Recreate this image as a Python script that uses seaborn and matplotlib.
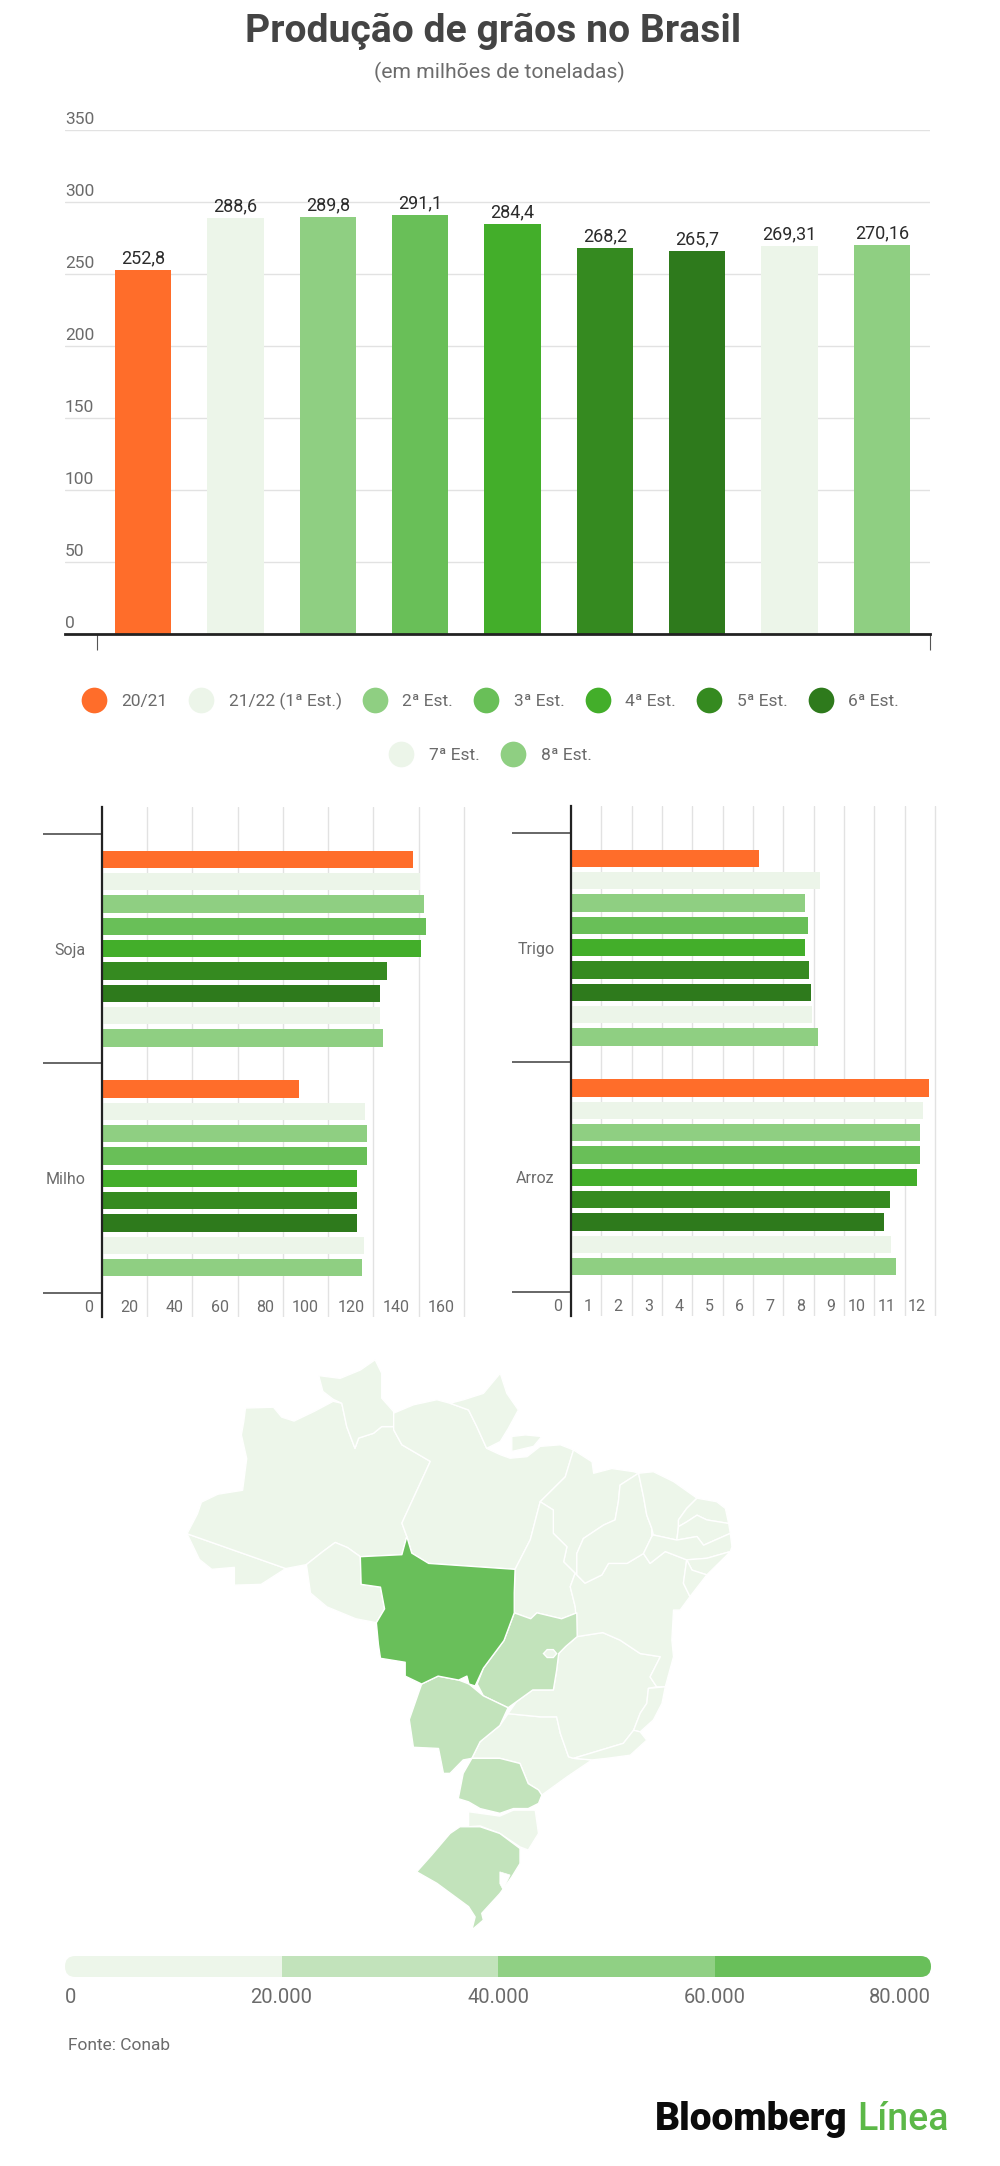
import matplotlib
matplotlib.use('Agg')
import matplotlib.pyplot as plt
import matplotlib.transforms as mtrans
from matplotlib.lines import Line2D
from matplotlib.patches import FancyBboxPatch
import pandas as pd
import seaborn as sns

W, H = 1000, 2166

estimates = ['20/21', '21/22 (1ª Est.)', '2ª Est.', '3ª Est.', '4ª Est.',
             '5ª Est.', '6ª Est.', '7ª Est.', '8ª Est.']
colors = ['#ff6d2a', '#ecf5e9', '#8fcf82', '#69bf58', '#43ae2a',
          '#358a20', '#2e7a1c', '#ecf5e9', '#8fcf82']

total = [252.8, 288.6, 289.8, 291.1, 284.4, 268.2, 265.7, 269.31, 270.16]
total_labels = ['252,8', '288,6', '289,8', '291,1', '284,4', '268,2', '265,7', '269,31', '270,16']

soja = [137.4, 140.8, 142.2, 143.1, 141.1, 125.9, 123.0, 123.0, 124.4]
milho = [87.2, 116.5, 117.1, 117.1, 112.9, 112.9, 112.9, 115.7, 115.1]
trigo = [6.2, 8.2, 7.7, 7.8, 7.7, 7.85, 7.9, 7.95, 8.15]
arroz = [11.8, 11.6, 11.5, 11.5, 11.4, 10.5, 10.3, 10.55, 10.7]

scale_steps = [0, 20000, 40000, 60000, 80000]
scale_labels = ['0', '20.000', '40.000', '60.000', '80.000']
scale_colors = ['#edf6ea', '#c2e3bb', '#90d084', '#69bf5a']

# state outlines in map units
AC = [(90,490),(120,555),(150,580),(205,575),(205,620),(270,618),(330,578)]
AM = [(90,490),(115,440),(125,410),(165,390),(225,380),(235,300),(222,240),(228,205),(232,172),(300,170),
      (320,195),(350,205),(400,180),(445,155),(466,160),(478,219),(498,274),(507,248),(543,236),(563,219),
      (592,219),(592,227),(612,265),(681,307),(612,463),(624,497),(612,543),(511,548),(480,525),
      (450,512),(420,535),(380,568),(330,578)]
RR = [(466,160),(445,150),(420,130),(410,90),(462,97),(511,76),(547,50),(563,84),(563,147),(592,181),
      (592,219),(563,219),(543,236),(507,248),(498,274),(478,219)]
PA = [(592,185),(640,164),(697,151),(729,160),(774,177),(794,219),(818,274),(851,290),(875,299),(916,295),
      (948,269),(997,265),(1029,278),(1009,346),(948,409),(924,505),(887,580),(677,565),(636,539),(624,497),
      (612,463),(681,307),(612,265),(592,227)]
MARAJO = [(879,244),(912,240),(952,244),(932,269),(879,282)]
AP = [(729,160),(762,151),(810,135),(851,84),(867,135),(895,177),(871,223),(851,257),(818,274),(794,219),
      (774,177)]
MA = [(1029,278),(1074,308),(1078,337),(1122,325),(1175,333),(1187,337),(1142,367),(1138,409),(1130,455),
      (1102,468),(1053,502),(1037,540),(1037,594),(1033,590),(1005,561),(1013,523),(980,489),(980,430),
      (948,409),(1009,346)]
TO = [(948,409),(980,430),(980,489),(1013,523),(1005,561),(1033,590),(1021,624),(1033,674),(1037,690),
      (1000,705),(940,690),(925,705),(885,690),(885,640),(887,580),(924,505)]
GO = [(885,690),(925,705),(940,690),(1000,705),(1037,690),(1038,750),(1010,775),(993,793),(988,835),(980,885),
      (930,885),(890,915),(870,930),(810,900),(795,870),(810,830),(860,760)]
DF = [(956,793),(965,783),(980,783),(988,793),(980,803),(965,803)]
MT = [(511,548),(612,543),(624,497),(636,539),(677,565),(887,580),(885,640),(885,690),(860,760),(810,830),
      (790,875),(775,870),(770,850),(750,860),(700,850),(660,870),(620,850),(620,815),(560,805),(555,770),
      (550,715),(570,680),(560,625),(513,618)]
RO = [(380,568),(420,535),(450,512),(480,525),(511,548),(513,618),(560,625),(570,680),(550,715),(500,705),
      (430,675),(390,640)]
MS = [(660,870),(700,850),(750,860),(775,870),(810,900),(870,930),(850,975),(802,1016),(782,1058),(761,1062),
      (729,1096),(713,1096),(701,1033),(640,1030),(630,960),(650,900)]
SP = [(870,945),(948,953),(988,953),(997,995),(1017,1054),(1029,1058),(1074,1062),(1013,1105),(952,1151),
      (944,1138),(919,1122),(899,1071),(850,1058),(782,1058),(802,1016),(850,975)]
MG = [(1038,750),(1100,740),(1142,759),(1191,793),(1240,801),(1215,852),(1231,877),(1211,881),(1207,919),
      (1191,944),(1175,987),(1150,1020),(1029,1058),(1017,1054),(997,995),(988,953),(948,953),(870,945),
      (890,915),(930,885),(980,885),(988,835),(993,793),(1010,775)]
BA = [(1037,594),(1057,615),(1098,594),(1114,565),(1159,565),(1199,540),(1215,565),(1252,535),(1304,556),
      (1296,615),(1312,649),(1288,683),(1272,683),(1268,759),(1272,801),(1252,877),(1231,877),(1215,852),
      (1240,801),(1191,793),(1142,759),(1100,740),(1038,750),(1037,733),(1033,674),(1021,624),(1033,590)]
ES = [(1211,881),(1252,877),(1244,919),(1223,961),(1191,991),(1175,987),(1191,944),(1207,919)]
RJ = [(1029,1058),(1150,1020),(1175,987),(1191,991),(1207,1012),(1167,1050),(1110,1058),(1074,1062)]
PI = [(1187,337),(1199,396),(1207,443),(1219,476),(1219,497),(1207,523),(1199,540),(1159,565),(1114,565),
      (1098,594),(1057,615),(1037,594),(1037,540),(1053,502),(1102,468),(1130,455),(1138,409),(1142,367)]
CE = [(1187,337),(1223,333),(1272,358),(1329,400),(1304,426),(1284,455),(1284,472),(1280,506),(1223,493),
      (1219,476),(1207,443),(1199,396)]
RN = [(1329,400),(1377,409),(1398,426),(1406,464),(1353,455),(1329,443),(1304,460),(1284,472),(1284,455),
      (1304,426)]
PB = [(1284,472),(1304,460),(1329,443),(1353,455),(1406,464),(1410,489),(1345,519),(1329,497),(1280,506)]
PE = [(1223,493),(1280,506),(1329,497),(1345,519),(1410,489),(1414,523),(1410,535),(1353,552),(1304,556),
      (1252,535),(1215,565),(1199,540),(1207,523),(1219,497)]
AL = [(1410,535),(1398,548),(1353,594),(1317,582),(1304,556),(1353,552)]
SE = [(1304,556),(1317,582),(1353,594),(1312,649),(1296,615)]
PR = [(782,1058),(850,1058),(899,1071),(919,1122),(944,1138),(952,1151),(944,1172),(919,1185),(883,1185),
      (850,1197),(802,1185),(774,1168),(749,1160),(761,1096)]
SC = [(774,1193),(850,1204),(883,1189),(936,1189),(944,1248),(919,1290),(899,1282),(850,1248),(802,1229),
      (774,1231)]
RS = [(753,1231),(802,1231),(850,1248),(899,1286),(899,1324),(879,1358),(850,1400),(806,1450),(810,1467),
      (782,1492),(790,1459),(774,1433),(697,1374),(648,1345),(684,1303),(729,1248)]
LAGOA = [(850,1345),(875,1353),(858,1391),(850,1375)]

states_low = [AC, AM, RR, PA, MARAJO, AP, MA, TO, RO, SP, MG, BA, ES, RJ, PI, CE, RN, PB, PE, AL, SE, SC]
states_mid = [GO, MS, PR, RS]
states_high = [MT]

sns.set_theme(style='white')
plt.rcParams['font.family'] = ['Roboto', 'DejaVu Sans']

GREY = '#6b6b6b'
GRID = '#e2e2e2'
fig = plt.figure(figsize=(W/100, H/100), dpi=100, facecolor='white')


def px_axes(left, top, right, bottom):
    return fig.add_axes([left/W, 1-bottom/H, (right-left)/W, (bottom-top)/H])


### Title
fig.text(493/W, 1-31/H, 'Produção de grãos no Brasil', ha='center', va='center',
         fontsize=28.2, fontweight='bold', color='#444444')
fig.text(499/W, 1-72/H, '(em milhões de toneladas)', ha='center', va='center',
         fontsize=15.2, color=GREY)

### Top bars
ax = px_axes(65, 130, 930, 634)
sns.barplot(x=estimates, y=total, hue=estimates, palette=colors, saturation=1, linewidth=0,
            width=0.61, dodge=False, legend=False, ax=ax)
for c, lab in zip(ax.containers, total_labels):
    ax.bar_label(c, labels=[lab], padding=2, fontsize=13, color='#2b2b2b')
ax.set_xlim(-0.845, 8.522)
ax.set_ylim(0, 350)
ax.set_yticks(range(0, 351, 50))
ax.set_xticks([-0.5, 8.522], ['', ''])
ax.set_axisbelow(True)
ax.grid(axis='y', color=GRID, lw=1)
ax.tick_params(axis='y', length=0, pad=0, labelsize=12.5, labelcolor=GREY)
ax.tick_params(axis='x', length=11.5, width=0.8, color='#555555', bottom=True)
for lab in ax.get_yticklabels():
    lab.set_ha('left')
    lab.set_va('bottom')
    lab.set_transform(lab.get_transform() + mtrans.ScaledTranslation(0, 3/100, fig.dpi_scale_trans))
sns.despine(ax=ax, left=True)
ax.spines['bottom'].set_color('#222222')
ax.spines['bottom'].set_linewidth(2)

### Legend, two rows
handles = [Line2D([], [], ls='none', marker='o', ms=18.5, mec='none', mfc=col) for col in colors]
for hs, ls, row_y in [(handles[:7], estimates[:7], 701.5), (handles[7:], estimates[7:], 755)]:
    fig.legend(hs, ls, ncol=len(hs), loc='center', bbox_to_anchor=(490/W, 1-row_y/H), frameon=False,
               fontsize=12.5, labelcolor=GREY, borderpad=0, handlelength=1.5, handletextpad=0.85,
               columnspacing=1.15)


### Horizontal panels
def crop_panel(box, names, first, second, ticks, tick_px):
    ax = px_axes(*box)
    df = pd.DataFrame({'cultura': [names[0]]*9 + [names[1]]*9,
                       'estimativa': estimates*2,
                       'valor': list(first) + list(second)})
    sns.barplot(data=df, y='cultura', x='valor', hue='estimativa', hue_order=estimates, palette=colors,
                saturation=1, linewidth=0, width=0.876, gap=0.22, orient='h', legend=False, ax=ax)
    ax.set_xlim(0, ticks[-1] + (ticks[1]-ticks[0]))
    ax.set_ylim(1.604, -0.617)
    ax.set(xlabel='', ylabel='')
    ax.set_axisbelow(True)
    ax.grid(axis='x', color=GRID, lw=1)
    ax.grid(axis='y', visible=False)
    ax.set_xticks(ticks, [str(t) for t in ticks])
    ax.tick_params(axis='x', length=0, pad=-12, labelsize=11.5, labelcolor=GREY)
    for lab in ax.get_xticklabels():
        lab.set_ha('right')
        lab.set_transform(lab.get_transform() + mtrans.ScaledTranslation(-tick_px/100, 0, fig.dpi_scale_trans))
    ax.set_yticks([-0.5, 0.5, 1.5], ['', '', ''])
    ax.set_yticks([0, 1], names, minor=True)
    ax.tick_params(axis='y', which='major', length=42.5, width=1.4, color='#666666', left=True)
    ax.tick_params(axis='y', which='minor', length=0, pad=12, labelsize=11.5, labelcolor=GREY)
    sns.despine(ax=ax, top=True, right=True, bottom=True)
    ax.spines['left'].set_color('#222222')
    ax.spines['left'].set_linewidth(1.6)
    return ax


crop_panel((102, 807, 509, 1317), ['Soja', 'Milho'], soja, milho, list(range(0, 161, 20)), 9)
crop_panel((571, 806, 965.5, 1316), ['Trigo', 'Arroz'], trigo, arroz, list(range(0, 13)), 9)

### Map
ax_map = px_axes(150, 1340, 790, 1960)
ax_map.set_xlim(0, 1555)
ax_map.set_ylim(1568, 0)
ax_map.axis('off')
for group, col in [(states_low, scale_colors[0]), (states_mid, scale_colors[1]), (states_high, scale_colors[3])]:
    for st in group:
        ax_map.fill(*zip(*st), facecolor=col, edgecolor='white', lw=1.0, joinstyle='round')
ax_map.fill(*zip(*DF), facecolor=scale_colors[0], edgecolor='white', lw=1.0)
ax_map.fill(*zip(*LAGOA), facecolor='white', edgecolor='white', lw=0.5)

### Colour scale
ax_sc = px_axes(65, 1956, 931, 1977)
ax_sc.set_xlim(scale_steps[0], scale_steps[-1])
ax_sc.set_ylim(0, 1)
clip = FancyBboxPatch((0, 0), 1, 1, boxstyle='round,pad=0,rounding_size=0.012', mutation_aspect=866/21,
                      transform=ax_sc.transAxes, facecolor='none', edgecolor='none')
ax_sc.add_patch(clip)
for i, col in enumerate(scale_colors):
    b = ax_sc.barh(0.5, scale_steps[i+1]-scale_steps[i], left=scale_steps[i], height=1, color=col, linewidth=0)
    b[0].set_clip_path(clip)
ax_sc.set_yticks([])
ax_sc.set_xticks(scale_steps, scale_labels)
ax_sc.tick_params(axis='x', length=0, pad=8, labelsize=14.5, labelcolor=GREY)
ax_sc.get_xticklabels()[0].set_ha('left')
ax_sc.get_xticklabels()[-1].set_ha('right')
sns.despine(ax=ax_sc, left=True, bottom=True)

### Footer
fig.text(68/W, 1-2045/H, 'Fonte: Conab', ha='left', va='center', fontsize=12.5, color=GREY)
fig.text(655/W, 1-2120/H, 'Bloomberg', ha='left', va='center', fontsize=28, fontweight=900, color='#0b0b0b')
fig.text(857/W, 1-2120/H, 'Línea', ha='left', va='center', fontsize=27, fontweight='medium', color='#5cb848')

fig.savefig('out.png', dpi=100)
